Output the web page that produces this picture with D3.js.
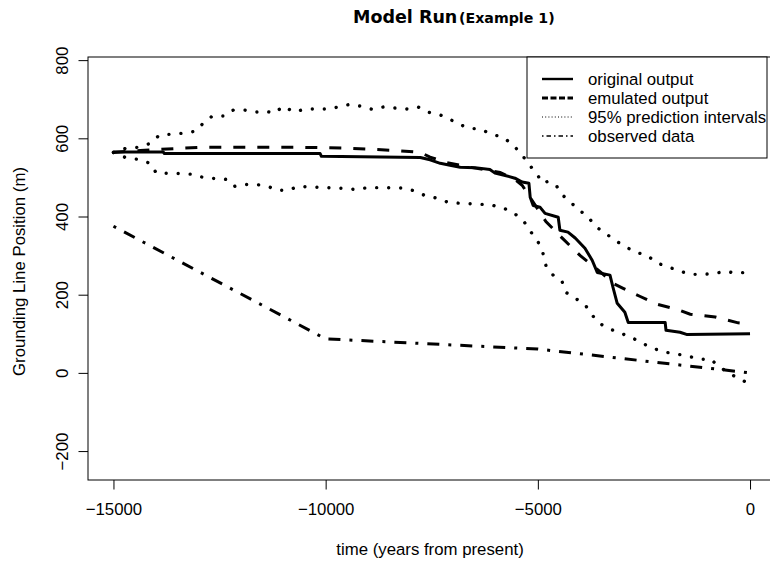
<!DOCTYPE html>
<html>
<head>
<meta charset="utf-8">
<script src="https://cdn.jsdelivr.net/npm/d3@7"></script>
<style>
  html, body { margin: 0; padding: 0; background: #fff; }
  svg { display: block; }
</style>
</head>
<body>
<svg id="chart" width="770" height="566"></svg>
<script>
// ---- Data ----
const xTicks = [-15000, -10000, -5000, 0];
const yTicks = [-200, 0, 200, 400, 600, 800];

const origYears = [-15000, -13830, -13800, -10130, -10100, -7770, -7540, -7300, -7070, -6830, -6480, -6130, -6010, -5770, -5540, -5370, -5210, -5180, -5110, -4950, -4830, -4520, -4480, -4290, -4120, -3890, -3720, -3600, -3300, -3230, -3130, -2950, -2870, -2000, -1980, -1650, -1480, 0];
const origValues = [565, 565, 561, 561, 554, 551, 545, 536, 531, 526, 525, 520, 511, 505, 498, 488, 485, 449, 428, 424, 408, 398, 365, 360, 345, 319, 288, 257, 250, 219, 178, 155, 129, 129, 109, 104, 98, 100];

const emuYears = [-15000, -14370, -12960, -10600, -9590, -8950, -8360, -7770, -7540, -7190, -6600, -5890, -5540, -5370, -4810, -4400, -4000, -3500, -3230, -2990, -2600, -2200, -1700, -1410, -820, -280, 0];
const emuValues = [564, 569, 577, 577, 575, 572, 569, 564, 552, 539, 526, 513, 495, 480, 387, 342, 300, 256, 229, 216, 196, 176, 162, 150, 143, 128, 125];

const upperYears = [-15000, -14720, -14420, -14130, -13920, -13360, -13070, -12890, -12670, -12390, -12180, -11900, -11660, -11400, -11210, -11000, -10740, -10480, -9920, -9420, -9160, -8900, -8650, -8080, -7820, -7590, -7330, -7110, -6860, -6620, -6340, -6080, -5820, -5610, -5400, -5230, -5040, -4880, -4760, -4570, -4430, -4220, -4050, -3820, -3650, -3440, -3200, -2950, -2710, -2430, -2190, -1930, -1670, -1410, -1130, -850, -570, -350, -90, 0];
const upperValues = [564, 574, 577, 587, 608, 613, 618, 638, 657, 657, 672, 672, 667, 669, 664, 682, 667, 675, 675, 687, 682, 674, 680, 675, 680, 667, 661, 651, 636, 626, 623, 610, 603, 585, 562, 536, 511, 485, 490, 480, 456, 436, 418, 400, 375, 360, 340, 324, 309, 301, 281, 271, 261, 252, 252, 254, 260, 255, 257, 258];

const lowerYears = [-15000, -14720, -14420, -14130, -13990, -13400, -13120, -12890, -12600, -12340, -12160, -11920, -11640, -11360, -11140, -10880, -10650, -9590, -9280, -9000, -8150, -7890, -7630, -7370, -7110, -6830, -6310, -6080, -5800, -5540, -5320, -5160, -4990, -4880, -4810, -4640, -4430, -4340, -4120, -3890, -3750, -3580, -3350, -3060, -2780, -2540, -2290, -2000, -1720, -1460, -1200, -920, -750, -330, -90];
const lowerValues = [564, 551, 546, 536, 511, 510, 508, 500, 497, 495, 477, 482, 482, 477, 467, 467, 477, 472, 469, 474, 473, 465, 452, 447, 436, 434, 431, 429, 421, 407, 386, 360, 334, 306, 275, 250, 234, 206, 191, 175, 152, 129, 114, 102, 90, 76, 63, 53, 48, 43, 35, 35, 17, -11, -24];

const obsYears = [-15000, -10000, -5000, 0];
const obsValues = [375, 87, 61, 0];

const legendLabels = ["original output", "emulated output", "95% prediction intervals", "observed data"];

// ---- Layout ----
const svg = d3.select("#chart");
const pLeft = 88, pRight = 775.5, pTop = 57, pBottom = 480;
const fs = 16.8;

const x = d3.scaleLinear().domain([-15600, 600]).range([pLeft, pRight]);
const y = d3.scaleLinear().domain([-274, 808]).range([pBottom, pTop]);

svg.append("rect").attr("width", 770).attr("height", 566).attr("fill", "#fff");

const fontMain = "'Liberation Sans', Arial, sans-serif";

svg.append("clipPath").attr("id", "plotclip")
  .append("rect").attr("x", pLeft).attr("y", pTop).attr("width", pRight - pLeft).attr("height", pBottom - pTop);

const fmt = d => d3.format("d")(d).replace("-", "\u2212");

const xAxis = d3.axisBottom(x).tickValues(xTicks).tickSize(9.5).tickPadding(0).tickFormat(fmt);
const gx = svg.append("g").attr("transform", `translate(0,${pBottom})`).call(xAxis);
gx.select(".domain").remove();
gx.selectAll("line").attr("stroke", "#000").attr("stroke-width", 1);
gx.selectAll("text").attr("font-family", fontMain).attr("font-size", fs).attr("fill", "#000")
  .attr("dy", null).attr("y", 35);

const yAxis = d3.axisLeft(y).tickValues(yTicks).tickSize(9.5).tickPadding(0).tickFormat(fmt);
const gy = svg.append("g").attr("transform", `translate(${pLeft},0)`).call(yAxis);
gy.select(".domain").remove();
gy.selectAll("line").attr("stroke", "#000").attr("stroke-width", 1);
gy.selectAll("text")
  .attr("font-family", fontMain).attr("font-size", fs).attr("fill", "#000")
  .attr("x", null).attr("dy", null)
  .attr("text-anchor", "middle")
  .attr("transform", "translate(-20,0) rotate(-90)");

svg.append("rect").attr("x", pLeft).attr("y", pTop).attr("width", pRight - pLeft).attr("height", pBottom - pTop)
  .attr("fill", "none").attr("stroke", "#000").attr("stroke-width", 1);

const plot = svg.append("g").attr("clip-path", "url(#plotclip)");
const line = d3.line().x(d => x(d[0])).y(d => y(d[1]));
const zip = (a, b) => a.map((v, i) => [v, b[i]]);

plot.append("path").datum(zip(obsYears, obsValues)).attr("d", line)
  .attr("fill", "none").attr("stroke", "#000").attr("stroke-width", 3)
  .attr("stroke-dasharray", "3 9 12 9");

plot.append("path").datum(zip(upperYears, upperValues)).attr("d", line)
  .attr("fill", "none").attr("stroke", "#000").attr("stroke-width", 3.4)
  .attr("stroke-linecap", "round").attr("stroke-dasharray", "0.01 11.99");
plot.append("path").datum(zip(lowerYears, lowerValues)).attr("d", line)
  .attr("fill", "none").attr("stroke", "#000").attr("stroke-width", 3.4)
  .attr("stroke-linecap", "round").attr("stroke-dasharray", "0.01 11.99");

plot.append("path").datum(zip(emuYears, emuValues)).attr("d", line)
  .attr("fill", "none").attr("stroke", "#000").attr("stroke-width", 3)
  .attr("stroke-dasharray", "12 12");

plot.append("path").datum(zip(origYears, origValues)).attr("d", line)
  .attr("fill", "none").attr("stroke", "#000").attr("stroke-width", 3)
  .attr("stroke-linejoin", "round");

// legend
const lg = svg.append("g");
lg.append("rect").attr("x", 527).attr("y", pTop).attr("width", 240).attr("height", 101)
  .attr("fill", "#fff").attr("stroke", "#000").attr("stroke-width", 1);
const legStyles = [
  { w: 2.4, dash: null },
  { w: 3, dash: "6 2.5" },
  { w: 1, dash: "1 2.2" },
  { w: 1.6, dash: "1.5 3 4.5 3" }
];
const ly = d3.scalePoint().domain(legendLabels).range([79, 136]);
legendLabels.forEach((lab, i) => {
  const yy = ly(lab);
  lg.append("line").attr("x1", 542).attr("x2", 573).attr("y1", yy).attr("y2", yy)
    .attr("stroke", "#000").attr("stroke-width", legStyles[i].w)
    .attr("stroke-dasharray", legStyles[i].dash);
  lg.append("text").attr("x", 588).attr("y", yy + 5.8)
    .attr("font-family", fontMain).attr("font-size", fs).text(lab);
});

// titles
const titleFont = "'DejaVu Sans', 'Open Sans', sans-serif";
svg.append("text").attr("x", 353).attr("y", 22.5)
  .attr("font-family", titleFont).attr("font-weight", 700).attr("font-size", 17.5).text("Model Run");
svg.append("text").attr("x", 459).attr("y", 22.5)
  .attr("font-family", titleFont).attr("font-weight", 700).attr("font-size", 14.2).text("(Example 1)");

svg.append("text").attr("x", 430).attr("y", 555).attr("text-anchor", "middle")
  .attr("font-family", fontMain).attr("font-size", fs).text("time (years from present)");

svg.append("text").attr("transform", `translate(24.5,${(pTop + pBottom) / 2 + 3}) rotate(-90)`)
  .attr("text-anchor", "middle")
  .attr("font-family", fontMain).attr("font-size", fs).text("Grounding Line Position (m)");
</script>
</body>
</html>
